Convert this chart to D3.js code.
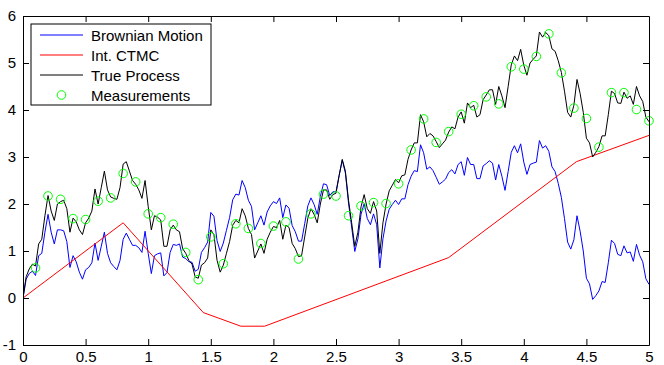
<!DOCTYPE html>
<html>
<head>
<meta charset="utf-8">
<script src="https://cdn.jsdelivr.net/npm/d3@7"></script>
<style>
  body { margin: 0; background: #fff; }
  svg { display: block; font-family: "Liberation Sans", Arial, Helvetica, sans-serif; }
</style>
</head>
<body>
<svg id="chart"></svg>
<script>
// sample step of the simulated paths
const dt = 0.025;

const trueProcess = [
  0.00,0.45,0.62,0.72,0.68,1.15,1.25,1.75,2.18,1.85,
  1.65,2.00,2.05,2.08,1.90,1.40,1.70,1.62,1.45,1.35,
  1.60,1.70,1.85,2.32,2.00,2.35,2.70,2.30,2.15,2.12,
  2.10,2.35,2.85,2.90,2.70,2.50,2.42,2.30,2.12,2.50,
  1.95,1.45,1.75,1.72,1.66,1.10,1.10,1.45,1.55,1.45,
  1.41,1.05,0.95,0.80,0.72,0.45,0.42,0.70,0.75,0.85,
  1.45,1.35,0.80,0.55,0.70,0.95,1.20,1.55,1.65,1.60,
  1.90,1.75,1.48,1.35,0.85,1.00,1.15,0.95,1.25,1.40,
  1.52,1.50,1.65,1.25,1.55,1.50,1.16,1.05,0.88,0.90,
  1.30,1.70,1.90,1.78,1.60,2.00,2.30,2.30,2.10,2.20,
  2.23,2.60,2.95,2.70,2.08,1.60,1.10,1.40,1.94,2.20,
  1.90,1.80,2.05,1.85,0.95,1.60,2.00,2.28,2.40,2.52,
  2.45,2.60,2.62,2.95,3.15,3.30,3.30,3.90,3.75,3.43,
  3.50,3.45,3.33,3.20,3.28,3.36,3.53,3.64,3.60,3.85,
  3.96,3.72,4.15,4.05,4.10,3.85,3.90,4.22,4.32,4.43,
  4.43,4.12,4.50,4.30,4.05,4.50,4.96,5.15,5.05,5.29,
  4.95,4.74,5.00,5.08,5.15,5.66,5.55,5.65,5.58,5.30,
  5.25,5.05,4.80,4.40,3.95,3.85,4.10,4.65,4.35,3.95,
  3.40,3.30,3.00,3.10,3.22,3.45,3.45,3.90,4.40,4.35,
  4.15,4.14,4.38,4.25,4.30,4.12,4.50,4.30,4.18,3.85,
  3.75
];

const brownian = [
  0.00,0.40,0.52,0.57,0.48,0.90,0.95,1.40,1.78,1.40,
  1.15,1.45,1.45,1.43,1.20,0.65,0.90,0.77,0.55,0.40,
  0.60,0.65,0.75,1.17,0.80,1.10,1.40,0.95,0.75,0.67,
  0.60,0.80,1.25,1.38,1.25,1.12,1.12,1.07,0.97,1.42,
  0.95,0.52,0.90,0.94,0.96,0.47,0.54,0.97,1.14,1.12,
  1.15,0.87,0.84,0.77,0.76,0.57,0.61,0.97,1.07,1.19,
  1.82,1.74,1.22,0.99,1.17,1.44,1.71,2.09,2.21,2.19,
  2.50,2.35,2.08,1.95,1.45,1.60,1.75,1.55,1.83,1.96,
  2.05,2.01,2.13,1.71,1.98,1.91,1.54,1.41,1.21,1.21,
  1.58,1.96,2.13,1.99,1.78,2.16,2.43,2.41,2.18,2.26,
  2.26,2.61,2.93,2.66,2.02,1.51,0.99,1.26,1.78,2.01,
  1.69,1.56,1.79,1.56,0.64,1.26,1.64,1.89,1.99,2.08,
  1.99,2.11,2.11,2.41,2.59,2.71,2.69,3.26,3.09,2.74,
  2.79,2.71,2.57,2.42,2.47,2.53,2.67,2.73,2.64,2.84,
  2.90,2.61,2.99,2.84,2.84,2.54,2.54,2.81,2.86,2.92,
  2.87,2.51,2.84,2.59,2.29,2.69,3.10,3.24,3.09,3.28,
  2.89,2.63,2.84,2.87,2.89,3.35,3.19,3.24,3.12,2.79,
  2.69,2.44,2.14,1.69,1.19,1.04,1.24,1.75,1.42,1.00,
  0.42,0.30,-0.03,0.05,0.15,0.35,0.33,0.75,1.23,1.16,
  0.93,0.90,1.11,0.96,0.98,0.78,1.14,0.91,0.77,0.41,
  0.29
];

// integrated CTMC: piecewise linear, corners only
const ctmcTimes = [0, 0.8, 1.44, 1.74, 1.93, 3.4, 4.42, 5];
const ctmcValues = [0, 1.6, -0.31, -0.6, -0.6, 0.86, 2.9, 3.46];

// measurements every 0.1
const measDt = 0.1;
const measurements = [
  0.64,2.17,2.10,1.69,1.67,2.06,2.13,2.65,2.47,1.79,
  1.71,1.57,0.97,0.39,1.30,0.73,1.58,1.48,1.16,1.53,
  1.62,0.83,1.79,2.21,2.17,1.75,1.96,2.03,2.01,2.43,
  3.15,3.81,3.31,3.54,3.91,4.09,4.28,4.13,4.92,4.87,
  5.14,5.62,4.79,4.04,3.82,3.21,4.37,4.37,4.01,3.77
];

const xTicks = [0, 0.5, 1, 1.5, 2, 2.5, 3, 3.5, 4, 4.5, 5];
const yTicks = [-1, 0, 1, 2, 3, 4, 5, 6];
const legendLabels = ["Brownian Motion", "Int. CTMC", "True Process", "Measurements"];

const W = 664, H = 365;
const margin = { top: 16, right: 15, bottom: 20, left: 23 };
const width = W - margin.left - margin.right,
  height = H - margin.top - margin.bottom;

const svg = d3.select("#chart").attr("width", W).attr("height", H);
const g = svg.append("g").attr("transform", `translate(${margin.left},${margin.top})`);

const x = d3.scaleLinear().domain([0, 5]).range([0, width]);
const y = d3.scaleLinear().domain([-1, 6]).range([height, 0]);

g.append("defs").append("clipPath").attr("id", "clip")
  .append("rect").attr("width", width).attr("height", height);

const plot = g.append("g").attr("clip-path", "url(#clip)");

const line = d3.line().x((d) => x(d[0])).y((d) => y(d[1]));

const bmData = brownian.map((v, i) => [i * dt, v]);
const tpData = trueProcess.map((v, i) => [i * dt, v]);
const ctmcData = ctmcTimes.map((t, i) => [t, ctmcValues[i]]);
const measData = measurements.map((v, i) => [(i + 1) * measDt, v]);

plot.append("path").datum(bmData)
  .attr("fill", "none").attr("stroke", "#0000ff").attr("stroke-width", 1)
  .attr("d", line);

plot.append("path").datum(ctmcData)
  .attr("fill", "none").attr("stroke", "#ff0000").attr("stroke-width", 1)
  .attr("d", line);

plot.append("path").datum(tpData)
  .attr("fill", "none").attr("stroke", "#000").attr("stroke-width", 1)
  .attr("d", line);

g.selectAll("circle.meas").data(measData).join("circle")
  .attr("class", "meas")
  .attr("cx", (d) => x(d[0]))
  .attr("cy", (d) => y(d[1]))
  .attr("r", 4.3)
  .attr("fill", "none")
  .attr("stroke", "#00ff00")
  .attr("stroke-width", 1);

// axes, matlab style: box with inward ticks on all sides
const tickLen = 6;
const fmt = (d) => String(d);

const axB = g.append("g").attr("transform", `translate(0,${height})`)
  .call(d3.axisBottom(x).tickValues(xTicks).tickFormat(fmt).tickSizeInner(-tickLen).tickSizeOuter(0).tickPadding(6));
const axT = g.append("g")
  .call(d3.axisTop(x).tickValues(xTicks).tickFormat("").tickSizeInner(-tickLen).tickSizeOuter(0));
const axL = g.append("g")
  .call(d3.axisLeft(y).tickValues(yTicks).tickFormat(fmt).tickSizeInner(-tickLen).tickSizeOuter(0).tickPadding(7));
const axR = g.append("g").attr("transform", `translate(${width},0)`)
  .call(d3.axisRight(y).tickValues(yTicks).tickFormat("").tickSizeInner(-tickLen).tickSizeOuter(0));

[axB, axT, axL, axR].forEach((a) => {
  a.selectAll("path").attr("stroke", "#000");
  a.selectAll("line").attr("stroke", "#000");
  a.selectAll("text").attr("font-size", "15px").attr("fill", "#000")
    .style("font-family", '"Liberation Sans", Arial, Helvetica, sans-serif');
});
// ticks at the domain ends sit on the frame
axT.selectAll(".tick").filter((d) => d === 0 || d === 5).select("line").remove();
axB.selectAll(".tick").filter((d) => d === 0 || d === 5).select("line").remove();

// legend
const legend = g.append("g").attr("transform", "translate(8,8)");
legend.append("rect")
  .attr("width", 180).attr("height", 81)
  .attr("fill", "#fff").attr("stroke", "#000").attr("stroke-width", 1);

const legendColors = ["#0000ff", "#ff0000", "#000"];
legendLabels.forEach((label, i) => {
  const row = legend.append("g").attr("transform", `translate(0,${11 + i * 20})`);
  if (i < 3) {
    row.append("line")
      .attr("x1", 9).attr("x2", 52).attr("y1", 0).attr("y2", 0)
      .attr("stroke", legendColors[i]).attr("stroke-width", 1);
  } else {
    row.append("circle")
      .attr("cx", 30.5).attr("cy", 0).attr("r", 4.3)
      .attr("fill", "none").attr("stroke", "#00ff00");
  }
  row.append("text")
    .attr("x", 60).attr("y", 5.5)
    .attr("font-size", "15px")
    .text(label);
});
</script>
</body>
</html>
